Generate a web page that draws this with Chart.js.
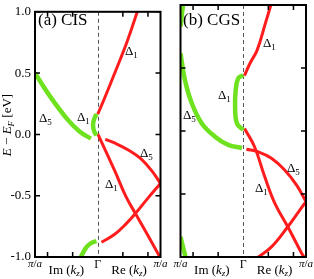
<!DOCTYPE html>
<html>
<head>
<meta charset="utf-8">
<script src="https://cdn.jsdelivr.net/npm/chart.js@4.4.0/dist/chart.umd.min.js"></script>
<style>
  html, body { margin: 0; padding: 0; background: #fff; }
  #wrap { position: relative; width: 314px; height: 279px; }
  canvas { position: absolute; top: 0; }
  #cA { left: 0; }
  #cB { left: 170px; }
</style>
</head>
<body>
<div id="wrap">
  <canvas id="cA" width="170" height="279"></canvas>
  <canvas id="cB" width="144" height="279"></canvas>
</div>
<script>
// k in units of pi/a (negative side = Im(kz), positive = Re(kz)), E - E_F in eV
const yTicks = [-1.0, -0.5, 0.0, 0.5, 1.0];
const kTicks = [-0.8, -0.4, 0.4, 0.8];

// (a) CIS
const cisGreenD5K = [-1.0, -0.76, -0.49, -0.29, -0.11];
const cisGreenD5E = [0.50, 0.31, 0.127, 0.024, -0.035];
const cisGreenD1K = [-0.02, -0.06, -0.075, -0.06, -0.02];
const cisGreenD1E = [0.167, 0.12, 0.075, 0.03, -0.008];
const cisGreenLowK = [-0.27, -0.18, -0.1, -0.02];
const cisGreenLowE = [-1.0, -0.92, -0.885, -0.87];
const cisRedD1UpK = [0.0, 0.1, 0.3, 0.47, 0.63];
const cisRedD1UpE = [0.165, 0.285, 0.537, 0.76, 1.0];
const cisRedD1DnK = [0.0, 0.27, 0.45, 0.6, 0.8, 0.99];
const cisRedD1DnE = [0.005, -0.296, -0.508, -0.645, -0.825, -1.0];
const cisRedD5K = [0.12, 0.27, 0.48, 0.69, 0.88, 1.0];
const cisRedD5E = [-0.04, -0.07, -0.125, -0.2, -0.31, -0.40];
const cisRedLowK = [0.06, 0.27, 0.45, 0.6, 0.8, 1.0];
const cisRedLowE = [-0.88, -0.815, -0.73, -0.645, -0.52, -0.40];

// (b) CGS
const cgsGreenTopK = [-1.0, -0.96];
const cgsGreenTopE = [0.83, 1.0];
const cgsGreenD5K = [-1.0, -0.93, -0.82, -0.66, -0.45, -0.24, -0.02];
const cgsGreenD5E = [0.617, 0.405, 0.22, 0.06, -0.045, -0.11, -0.135];
const cgsGreenD1K = [0.0, -0.08, -0.12, -0.13, -0.1, 0.0];
const cgsGreenD1E = [0.444, 0.418, 0.325, 0.19, 0.06, 0.008];
const cgsGreenLowK = [-1.0, -0.92];
const cgsGreenLowE = [-0.84, -1.0];
const cgsRedD1UpK = [0.02, 0.11, 0.22, 0.35, 0.44];
const cgsRedD1UpE = [0.44, 0.54, 0.64, 0.85, 1.0];
const cgsRedD1DnK = [0.02, 0.18, 0.34, 0.5, 0.71, 0.93, 0.97];
const cgsRedD1DnE = [0.02, -0.125, -0.36, -0.57, -0.76, -0.97, -1.0];
const cgsRedD5K = [0.05, 0.24, 0.45, 0.66, 0.85, 1.0];
const cgsRedD5E = [-0.145, -0.165, -0.217, -0.31, -0.43, -0.56];
const cgsRedLowK = [0.24, 0.45, 0.71, 0.87, 1.0];
const cgsRedLowE = [-1.0, -0.92, -0.76, -0.65, -0.56];

const GREEN = '#6ee21e';
const RED = '#ff1c1c';
const SERIF = '"Liberation Serif", "DejaVu Serif", serif';

function pts(k, e) {
  return k.map((v, i) => ({ x: v, y: e[i] }));
}

function curve(k, e, color) {
  return {
    data: pts(k, e),
    showLine: true,
    borderColor: color,
    borderWidth: color === GREEN ? 4.5 : 3,
    pointRadius: 0,
    tension: 0.4,
    fill: false
  };
}

function fontOf(p) {
  return (p[2] ? 'italic ' : '') + p[1] + 'px ' + SERIF;
}

// parts: [text, size, italic, dy]
function rich(ctx, x, y, parts, align) {
  let w = 0;
  parts.forEach(p => { ctx.font = fontOf(p); w += ctx.measureText(p[0]).width; });
  let cx = align === 'center' ? x - w / 2 : x;
  parts.forEach(p => {
    ctx.font = fontOf(p);
    ctx.fillText(p[0], cx, y + (p[3] || 0));
    cx += ctx.measureText(p[0]).width;
  });
}

const piA = [['π', 11, true], ['/', 11, false], ['a', 11, true]];
const imK = [['Im (', 13, false], ['k', 13, true], ['z', 9, true, 2], [')', 13, false]];
const reK = [['Re (', 13, false], ['k', 13, true], ['z', 9, true, 2], [')', 13, false]];

const decor = {
  id: 'decor',
  beforeDatasetsDraw(chart) {
    const { ctx, chartArea: a, scales: { x } } = chart;
    const gx = Math.round(x.getPixelForValue(0)) + 0.5;
    ctx.save();
    ctx.strokeStyle = '#555';
    ctx.lineWidth = 1;
    ctx.setLineDash([4, 3]);
    ctx.beginPath();
    ctx.moveTo(gx, a.top);
    ctx.lineTo(gx, a.bottom);
    ctx.stroke();
    ctx.restore();
  },
  afterDraw(chart, args, opts) {
    const { ctx, chartArea: a, scales: { x, y } } = chart;
    ctx.save();
    ctx.strokeStyle = '#000';
    ctx.lineWidth = 1.5;
    ctx.beginPath();
    yTicks.forEach(v => {
      const py = y.getPixelForValue(v);
      ctx.moveTo(a.left, py); ctx.lineTo(a.left + 5, py);
      ctx.moveTo(a.right, py); ctx.lineTo(a.right - 5, py);
    });
    kTicks.forEach(v => {
      const px = x.getPixelForValue(v);
      ctx.moveTo(px, a.bottom); ctx.lineTo(px, a.bottom - 5);
      ctx.moveTo(px, a.top); ctx.lineTo(px, a.top + 5);
    });
    ctx.stroke();
    ctx.lineWidth = 2;
    ctx.strokeRect(a.left, a.top, a.right - a.left, a.bottom - a.top);

    ctx.fillStyle = '#000';
    ctx.textBaseline = 'alphabetic';
    // x axis labels
    rich(ctx, x.getPixelForValue(-1), 267, piA, 'center');
    rich(ctx, x.getPixelForValue(1), 267, piA, 'center');
    rich(ctx, x.getPixelForValue(-0.5), 274, imK, 'center');
    rich(ctx, x.getPixelForValue(0.5), 274, reK, 'center');
    rich(ctx, x.getPixelForValue(0), 268, [['Γ', 12, false]], 'center');

    // panel title
    rich(ctx, opts.title[1], 25, [[opts.title[0], 17, false]], 'left');

    // band labels
    opts.bands.forEach(b => {
      rich(ctx, b[2], b[3], [['Δ', 13, false], [b[0], 9, false, 3]], 'left');
    });

    if (opts.yTitle) {
      ctx.translate(10.5, 125);
      ctx.rotate(-Math.PI / 2);
      rich(ctx, 0, 0, [['E', 13, true], [' − ', 13, false], ['E', 13, true], ['F', 9, true, 3], [' [eV]', 13, false]], 'center');
    }
    ctx.restore();
  }
};

function makeChart(id, datasets, withY, padding, decorOpts) {
  const yScale = {
    type: 'linear', min: -1, max: 1,
    display: withY,
    grid: { display: false, drawTicks: false },
    border: { display: false },
    ticks: {
      stepSize: 0.5,
      padding: 4,
      color: '#000',
      font: { family: SERIF, size: 13 },
      callback: v => v.toFixed(1)
    }
  };
  if (withY) yScale.afterFit = scale => { scale.width = 35; };

  return new Chart(document.getElementById(id), {
    type: 'scatter',
    data: { datasets },
    plugins: [decor],
    options: {
      responsive: false,
      animation: false,
      layout: { padding },
      plugins: {
        legend: { display: false },
        tooltip: { enabled: false },
        decor: decorOpts
      },
      scales: {
        x: { type: 'linear', min: -1, max: 1, display: false },
        y: yScale
      }
    }
  });
}

makeChart('cA', [
  curve(cisGreenD5K, cisGreenD5E, GREEN),
  curve(cisGreenD1K, cisGreenD1E, GREEN),
  curve(cisGreenLowK, cisGreenLowE, GREEN),
  curve(cisRedD1UpK, cisRedD1UpE, RED),
  curve(cisRedD1DnK, cisRedD1DnE, RED),
  curve(cisRedD5K, cisRedD5E, RED),
  curve(cisRedLowK, cisRedLowE, RED)
], true, { left: 0, right: 9.5, top: 5, bottom: 22 }, {
  title: ['(a) CIS', 38],
  yTitle: true,
  bands: [['1', 0, 125, 55], ['5', 0, 39, 122], ['1', 0, 77, 121], ['5', 0, 140, 157], ['1', 0, 105, 188]]
});

makeChart('cB', [
  curve(cgsGreenTopK, cgsGreenTopE, GREEN),
  curve(cgsGreenD5K, cgsGreenD5E, GREEN),
  curve(cgsGreenD1K, cgsGreenD1E, GREEN),
  curve(cgsGreenLowK, cgsGreenLowE, GREEN),
  curve(cgsRedD1UpK, cgsRedD1UpE, RED),
  curve(cgsRedD1DnK, cgsRedD1DnE, RED),
  curve(cgsRedD5K, cgsRedD5E, RED),
  curve(cgsRedLowK, cgsRedLowE, RED)
], false, { left: 10.5, right: 8, top: 5, bottom: 22 }, {
  title: ['(b) CGS', 13],
  yTitle: false,
  bands: [['1', 0, 93, 47], ['1', 0, 48, 99], ['5', 0, 13, 119], ['5', 0, 117, 172], ['1', 0, 85, 192]]
});
</script>
</body>
</html>
